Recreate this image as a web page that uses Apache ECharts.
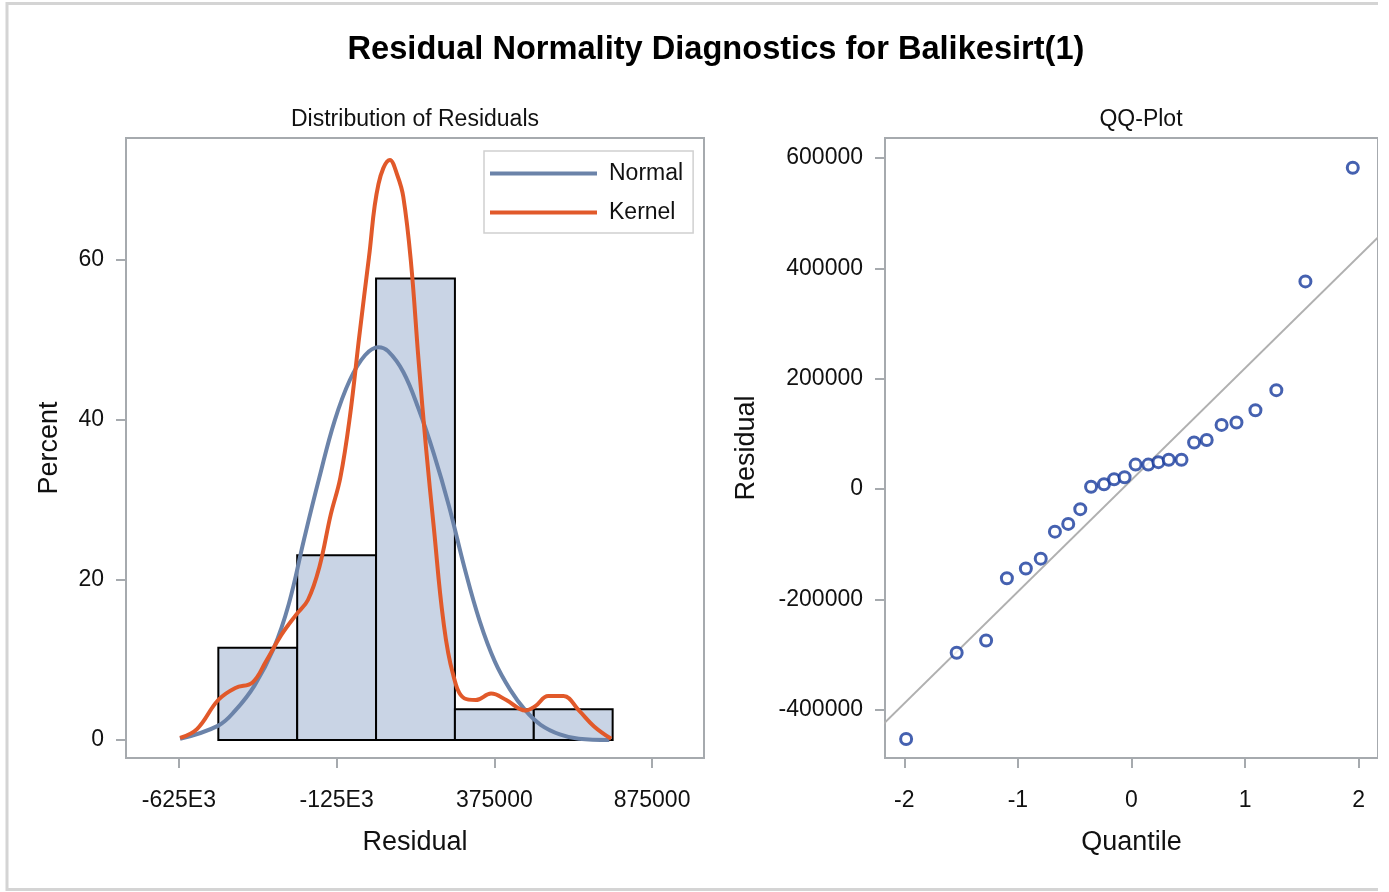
<!DOCTYPE html>
<html>
<head>
<meta charset="utf-8">
<script src="https://cdn.jsdelivr.net/npm/echarts@6/dist/echarts.min.js"></script>
<style>
  html, body { margin: 0; padding: 0; background: #fff; }
  #chart { width: 1378px; height: 892px; }
</style>
</head>
<body>
<div id="chart"></div>
<script>
// histogram bins (percent of 26 residuals)
var binStarts = [-500000, -250000, 0, 250000, 500000];
var binWidth = 250000;
var binPercents = [11.54, 23.08, 57.69, 3.85, 3.85];

// normal density curve
var normalX = [-621400, -500000, -446000, -385500, -325000, -276600, -228200, -179800, -131400, -83000,
    -35000, 7700, 38000, 86300, 134700, 183000, 231500, 279900, 328300, 376700,
    425000, 473400, 521900, 582400, 642800, 739500];
var normalPct = [0.15, 1.8, 3.7, 6.8, 11.4, 17.0, 25.1, 32.8, 39.9, 45.0,
    48.1, 49.1, 48.6, 46.0, 41.4, 35.8, 29.2, 21.6, 14.9, 9.8,
    6.3, 3.7, 1.9, 0.7, 0.15, 0];

// kernel density curve
var kernelX = [-621400, -566900, -500400, -446000, -391600, -349200, -300800, -252500, -216000, -179800,
    -143500, -113200, -83000, -52800, -22600, 7700, 44000, 68300, 86300, 110500,
    134700, 158900, 183000, 213300, 243500, 279900, 316100, 364500, 412900, 473400,
    503700, 546000, 594400, 642800, 691200, 745600];
var kernelPct = [0.26, 1.4, 5.0, 6.5, 7.2, 9.8, 13.1, 15.7, 17.5, 21.6,
    28.2, 32.8, 40.4, 50.6, 60.3, 69.5, 72.5, 70.5, 67.9, 59.8,
    47.5, 36.3, 26.6, 14.9, 8.3, 5.2, 5.0, 5.8, 5.0, 3.7,
    4.2, 5.5, 5.5, 3.7, 1.7, 0.15];

var histTicks = [-625000, -125000, 375000, 875000];
var histTickLabels = ['-625E3', '-125E3', '375000', '875000'];
var pctTicks = [0, 20, 40, 60];

// QQ plot
var qqQuantile = [-1.984, -1.539, -1.280, -1.097, -0.930, -0.799, -0.674, -0.557, -0.451, -0.356,
    -0.242, -0.153, -0.061, 0.036, 0.148, 0.237, 0.328, 0.440, 0.551, 0.662,
    0.793, 0.924, 1.091, 1.275, 1.531, 1.948];
var qqResidual = [-452600, -296300, -274100, -161500, -143700, -125900, -77000, -63000, -36300, 4400,
    8900, 17800, 21500, 44400, 44400, 48900, 53300, 53300, 84400, 88900,
    116300, 120700, 143000, 179300, 376300, 582200];
var refLineQ = [-2.2, 2.2];
var refLineR = [-428600, 461900];
var qqXTicks = [-2, -1, 0, 1, 2];
var qqYTicks = [-400000, -200000, 0, 200000, 400000, 600000];

var FONT = 'Liberation Sans, Arial, sans-serif';
var AXIS_COLOR = '#a6aaae';

function zip(xs, ys) {
    return xs.map(function (x, i) { return [x, ys[i]]; });
}

var histData = binStarts.map(function (s, i) { return [s, s + binWidth, binPercents[i]]; });

var chart = echarts.init(document.getElementById('chart'));

function axisCommon(extra) {
    var base = {
        axisLine: { show: true, onZero: false, lineStyle: { color: AXIS_COLOR, width: 2 } },
        splitLine: { show: false },
        nameTextStyle: { color: '#111', fontFamily: FONT, fontSize: 27 }
    };
    return Object.assign(base, extra);
}

function ticks(values) {
    return { show: true, length: 10, customValues: values, lineStyle: { color: AXIS_COLOR, width: 2 } };
}

var option = {
    animation: false,
    backgroundColor: '#fff',
    title: [
        { text: 'Residual Normality Diagnostics for Balikesirt(1)', left: 716, top: 34, textAlign: 'center', padding: 0,
          textStyle: { fontFamily: FONT, fontSize: 32.6, fontWeight: 'bold', color: '#000' } },
        { text: 'Distribution of Residuals', left: 415, top: 108, textAlign: 'center', padding: 0,
          textStyle: { fontFamily: FONT, fontSize: 23, fontWeight: 'normal', color: '#111' } },
        { text: 'QQ-Plot', left: 1141, top: 108, textAlign: 'center', padding: 0,
          textStyle: { fontFamily: FONT, fontSize: 23, fontWeight: 'normal', color: '#111' } }
    ],
    graphic: [{
        type: 'rect', z: 100, silent: true,
        shape: { x: 7, y: 3.5, width: 1420, height: 886 },
        style: { fill: 'none', stroke: '#d4d4d4', lineWidth: 3 }
    }],
    legend: {
        data: [{ name: 'Normal', icon: 'rect' }, { name: 'Kernel', icon: 'rect' }],
        orient: 'vertical',
        left: 484, top: 151,
        padding: [10, 10, 8, 6],
        itemGap: 14,
        itemWidth: 107, itemHeight: 4,
        borderColor: '#d0d0d0', borderWidth: 1.5,
        textStyle: { fontFamily: FONT, fontSize: 23, color: '#111', padding: [0, 0, 0, 7], lineHeight: 25 }
    },
    grid: [
        { left: 126, top: 138, width: 578, height: 620, show: true, borderColor: AXIS_COLOR, borderWidth: 2 },
        { left: 885, top: 138, width: 513, height: 620, show: true, borderColor: AXIS_COLOR, borderWidth: 2 }
    ],
    xAxis: [
        axisCommon({
            type: 'value', gridIndex: 0, min: -792700, max: 1039600,
            name: 'Residual', nameLocation: 'middle', nameGap: 71,
            axisTick: ticks(histTicks),
            axisLabel: {
                color: '#111', fontFamily: FONT, fontSize: 23, margin: 31, customValues: histTicks,
                formatter: function (v) { return histTickLabels[histTicks.indexOf(v)]; }
            }
        }),
        axisCommon({
            type: 'value', gridIndex: 1, min: -2.17, max: 2.17,
            name: 'Quantile', nameLocation: 'middle', nameGap: 71,
            axisTick: ticks(qqXTicks),
            axisLabel: { color: '#111', fontFamily: FONT, fontSize: 23, margin: 31, customValues: qqXTicks,
                formatter: function (v) { return String(v); } }
        })
    ],
    yAxis: [
        axisCommon({
            type: 'value', gridIndex: 0, min: -2.25, max: 75.25,
            name: 'Percent', nameLocation: 'middle', nameGap: 63,
            axisTick: ticks(pctTicks),
            axisLabel: { color: '#111', fontFamily: FONT, fontSize: 23, margin: 22, customValues: pctTicks,
                formatter: function (v) { return String(v); } }
        }),
        axisCommon({
            type: 'value', gridIndex: 1, min: -487000, max: 636000,
            name: 'Residual', nameLocation: 'middle', nameGap: 125,
            axisTick: ticks(qqYTicks),
            axisLabel: { color: '#111', fontFamily: FONT, fontSize: 23, margin: 22, customValues: qqYTicks,
                formatter: function (v) { return String(v); } }
        })
    ],
    series: [
        {
            name: 'Histogram',
            type: 'custom',
            xAxisIndex: 0, yAxisIndex: 0,
            data: histData,
            renderItem: function (params, api) {
                var p0 = api.coord([api.value(0), api.value(2)]);
                var p1 = api.coord([api.value(1), 0]);
                return {
                    type: 'rect',
                    shape: { x: p0[0], y: p0[1], width: p1[0] - p0[0], height: p1[1] - p0[1] },
                    style: { fill: '#c9d4e5', stroke: '#000', lineWidth: 2 }
                };
            },
            z: 1
        },
        {
            name: 'Normal', type: 'line', xAxisIndex: 0, yAxisIndex: 0,
            data: zip(normalX, normalPct), smooth: 0.4, symbol: 'none',
            lineStyle: { color: '#6b83a9', width: 4 }, itemStyle: { color: '#6b83a9' }, z: 3
        },
        {
            name: 'Kernel', type: 'line', xAxisIndex: 0, yAxisIndex: 0,
            data: zip(kernelX, kernelPct), smooth: 0.4, symbol: 'none',
            lineStyle: { color: '#e1592a', width: 4 }, itemStyle: { color: '#e1592a' }, z: 4
        },
        {
            name: 'Reference', type: 'line', xAxisIndex: 1, yAxisIndex: 1,
            data: zip(refLineQ, refLineR), symbol: 'none',
            lineStyle: { color: '#b0b0b0', width: 2 }, z: 2
        },
        {
            name: 'Residuals', type: 'scatter', xAxisIndex: 1, yAxisIndex: 1,
            data: zip(qqQuantile, qqResidual), symbol: 'circle', symbolSize: 11,
            itemStyle: { color: '#fff', borderColor: '#163a9c', borderWidth: 3 }, z: 3
        }
    ]
};

chart.setOption(option);
</script>
</body>
</html>
